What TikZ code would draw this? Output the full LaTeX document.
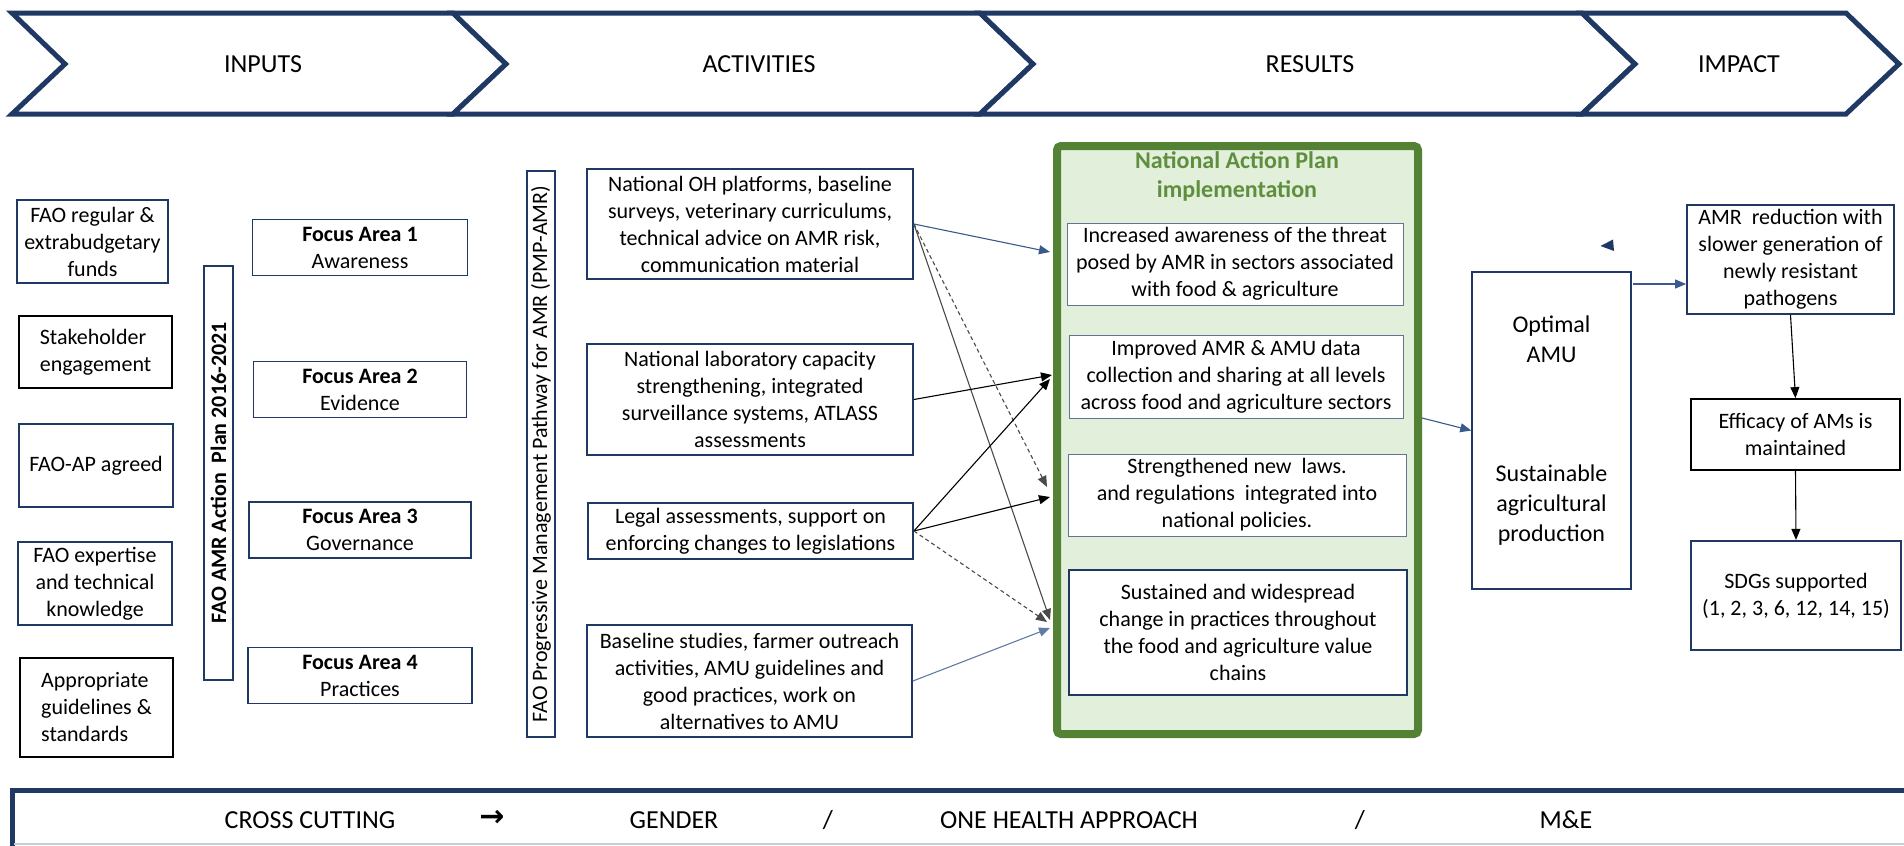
\documentclass[tikz,border=0pt]{standalone}
\usepackage{fontspec}
\setmainfont{Carlito}
\newfontfamily\arrowfont{DejaVu Sans}
\usetikzlibrary{arrows.meta, positioning, calc}

\definecolor{faonavy}{HTML}{203864}
\definecolor{napgreen}{HTML}{548235}
\definecolor{napfill}{HTML}{E2EFDA}
\definecolor{titlegreen}{HTML}{5E8E3E}
\definecolor{linkblue}{HTML}{3A5A8E}
\definecolor{linkgrey}{HTML}{4A4A4A}

\begin{document}
\begin{tikzpicture}[x=1pt, y=-1pt,
    box/.style={draw=faonavy, line width=1.8pt, fill=white, align=center, inner sep=1pt,
                font=\fontsize{22}{27}\selectfont},
    bbox/.style={box, draw=black},
    rbox/.style={box, draw=faonavy!70, line width=1pt},
    chev/.style={draw=faonavy, line width=5pt, fill=white, line join=miter},
    head/.style={font=\fontsize{26}{31}\selectfont},
    link/.style={line width=1.1pt, -{Triangle[length=11pt,width=9pt]}},
    ]
    \useasboundingbox (0,0) rectangle (1904,846);
    \fill[white] (0,0) rectangle (1904,846);

    % chevron band on top
    \foreach \l/\r/\name/\tx in {12/453/INPUTS/263, 453/980/ACTIVITIES/759, 980/1582/RESULTS/1310, 1582/1846/IMPACT/1739}
    {
        \draw[chev] (\l,13) -- (\r,13) -- (\r+53,64) -- (\r,114) -- (\l,114) -- (\l+53,64) -- cycle;
        \node[head] (\name) at (\tx,64) {\name};
    }

    % inputs
    \node[box, minimum width=151, minimum height=83] (funds) at (92.5,241.5) {FAO regular \&\\extrabudgetary\\funds};
    \node[bbox, minimum width=153, minimum height=72, align=left] (stake) at (95.5,352) {Stakeholder\\engagement};
    \node[box, minimum width=154, minimum height=83] (faoap) at (96,465.5) {FAO-AP agreed};
    \node[box, minimum width=154, minimum height=83] (expert) at (95,583.5) {FAO expertise\\and technical\\knowledge};
    \node[bbox, minimum width=153, minimum height=99, align=left] (guide) at (96.5,707.5) {Appropriate\\guidelines \&\\standards};

    \node[box, rotate=90, minimum width=414, minimum height=29, inner sep=0pt,
          font=\fontsize{22}{27}\selectfont\bfseries] (plan) at (218.5,473) {FAO AMR Action\ \ Plan 2016-2021};

    \foreach \i/\yy/\ww/\what in {1/247.5/215/Awareness, 2/389.5/213/Evidence, 3/530/222/Governance, 4/675.5/224/Practices}
    {
        \node[box, minimum width=\ww, minimum height=56] (fa\i) at (360,\yy) {\textbf{Focus Area \i}\\\what};
    }

    % activities
    \node[box, rotate=90, minimum width=566, minimum height=28, inner sep=0pt] (pmp) at (541,454) {FAO Progressive Management Pathway for AMR (PMP-AMR)};

    \node[box, minimum width=326, minimum height=110] (act1) at (750,224) {National OH platforms, baseline\\surveys, veterinary curriculums,\\technical advice on AMR risk,\\communication material};
    \node[box, minimum width=326, minimum height=111] (act2) at (750,399.5) {National laboratory capacity\\strengthening, integrated\\surveillance systems, ATLASS\\assessments};
    \node[box, minimum width=325, minimum height=56] (act3) at (750.5,531) {Legal assessments, support on\\enforcing changes to legislations};
    \node[box, minimum width=325, minimum height=112] (act4) at (749.5,681) {Baseline studies, farmer outreach\\activities, AMU guidelines and\\good practices, work on\\alternatives to AMU};

    % results
    \node[draw=napgreen, line width=8pt, fill=napfill, rounded corners=4pt, minimum width=361, minimum height=588] (nap) at (1237.5,440) {};
    \node[font=\fontsize{24}{29}\selectfont\bfseries, text=titlegreen, align=center] (naptitle) at (1237,176.5) {National Action Plan\\implementation};

    \node[rbox, minimum width=336, minimum height=82] (res1) at (1235,264) {Increased awareness of the threat\\posed by AMR in sectors associated\\with food \& agriculture};
    \node[rbox, minimum width=334, minimum height=83] (res2) at (1236,376.5) {Improved AMR \& AMU data\\collection and sharing at all levels\\across food and agriculture sectors};
    \node[rbox, minimum width=338, minimum height=82] (res3) at (1237,495) {Strengthened new\ \ laws.\\and regulations\ \ integrated into\\national policies.};
    \node[box, line width=1.5pt, minimum width=338, minimum height=125] (res4) at (1238,632.5) {Sustained and widespread\\change in practices throughout\\the food and agriculture value\\chains};

    \node[box, line width=1.5pt, minimum width=159, minimum height=317, font=\fontsize{24}{30}\selectfont] (amu) at (1551.5,430.5) {Optimal\\AMU\\[89pt]Sustainable\\agricultural\\production};

    % impact
    \node[box, minimum width=207, minimum height=109] (imp1) at (1790.5,259.5) {AMR\ \ reduction with\\slower generation of\\newly resistant\\pathogens};
    \node[bbox, minimum width=209, minimum height=71] (imp2) at (1795.5,434.5) {Efficacy of AMs is\\maintained};
    \node[box, line width=2.2pt, minimum width=210, minimum height=109] (imp3) at (1796,595.5) {SDGs supported\\(1, 2, 3, 6, 12, 14, 15)};

    \fill[faonavy] (1600.5,246) -- (1613,239.5) -- (1614,251) -- cycle;

    % activities -> results
    \coordinate (r1a) at (1050,252);
    \coordinate (r2a) at (1052,375);
    \coordinate (r2b) at (1050,379);
    \coordinate (r3a) at (1047,487);
    \coordinate (r3b) at (1050,497);
    \coordinate (r4a) at (1050,620);
    \coordinate (r4b) at (1047,622);
    \coordinate (r4c) at (1050,628);

    \draw[link, draw=linkblue] (act1.east) -- (r1a);
    \draw[link, draw=linkgrey] (act1.east) -- (r4a);
    \draw[link, draw=linkgrey, dash pattern=on 4pt off 3pt] (act1.east) -- (r3a);
    \draw[link] (act2.east) -- (r2a);
    \draw[link] (act3.east) -- (r2b);
    \draw[link] (act3.east) -- (r3b);
    \draw[link, draw=linkgrey, dash pattern=on 4pt off 3pt] (act3.east) -- (r4b);
    \draw[link, draw=linkblue!80] (act4.east) -- (r4c);

    % results -> impact
    \coordinate (napout) at (1422,418);
    \coordinate (amuout) at (1633,284);
    \draw[link, draw=linkblue] (napout) -- (amu.west);
    \draw[link, draw=linkblue] (amuout) -- (amuout -| imp1.west);
    \draw[link] (imp1.south) -- (imp2.north);
    \draw[link] (imp2.south) -- (imp3.north);

    % cross cutting band
    \draw[faonavy, line width=5pt, fill=white] (12,790) rectangle (1915,856);
    \draw[faonavy!25, line width=2pt] (14,844) -- (1904,844);
    \node[head] (cross) at (310,820) {CROSS CUTTING};
    \node[font=\arrowfont\bfseries\fontsize{30}{34}\selectfont] (arr) at (492,818) {→};
    \node[head] (gender) at (674,820) {GENDER};
    \node[head] (slash1) at (828,820) {/};
    \node[head] (oha) at (1069,820) {ONE HEALTH APPROACH};
    \node[head] (slash2) at (1360,820) {/};
    \node[head] (me) at (1566,820) {M\&E};
\end{tikzpicture}
\end{document}
